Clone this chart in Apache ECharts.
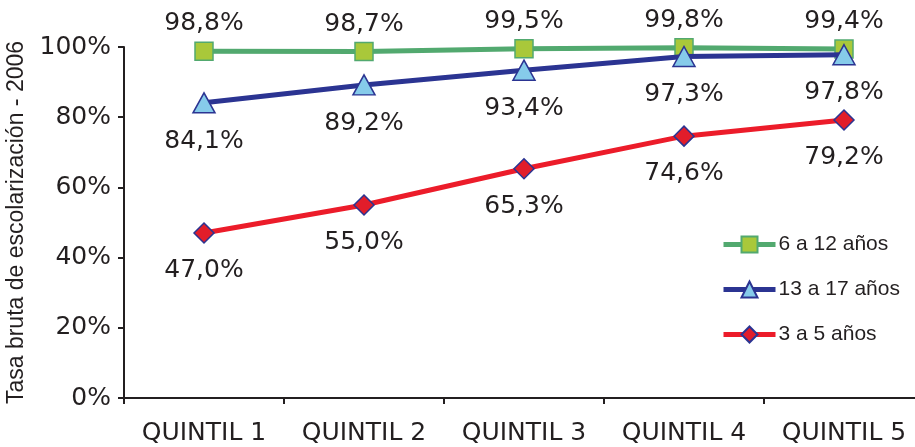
<!DOCTYPE html>
<html><head><meta charset="utf-8">
<script src="https://cdn.jsdelivr.net/npm/echarts@6/dist/echarts.min.js"></script>
<style>html,body{margin:0;padding:0;background:#fff}#c{width:915px;height:447px}</style>
</head><body><div id="c"></div>
<script>
const categories = ['QUINTIL 1','QUINTIL 2','QUINTIL 3','QUINTIL 4','QUINTIL 5'];
const seriesNames = ['6 a 12 años','13 a 17 años','3 a 5 años'];
const v6a12 = [98.8, 98.7, 99.5, 99.8, 99.4];
const v13a17 = [84.1, 89.2, 93.4, 97.3, 97.8];
const v3a5 = [47.0, 55.0, 65.3, 74.6, 79.2];
const yTicks = [0, 20, 40, 60, 80, 100];

const fmt = p => p.value.toFixed(1).replace('.', ',') + '%';
const lblFont = {fontFamily:'DejaVu Sans', fontSize:25, color:'#231f20'};

const chart = echarts.init(document.getElementById('c'));
chart.setOption({
  animation:false,
  grid:{left:124, top:47, width:800, height:351, containLabel:false, outerBoundsMode:'none'},
  legend:{
    orient:'vertical', left:716, top:229, itemWidth:52, itemHeight:20, itemGap:24,
    data:seriesNames,
    lineStyle:{width:5},
    textStyle:{fontFamily:'Liberation Sans', fontSize:21, color:'#231f20', padding:[0,0,0,-2]}
  },
  xAxis:{
    type:'category', data:categories, boundaryGap:true,
    axisLine:{lineStyle:{color:'#231f20', width:2}},
    axisTick:{show:true, length:6, lineStyle:{color:'#231f20', width:2}},
    axisLabel:{fontFamily:'DejaVu Sans', fontSize:25, color:'#231f20', margin:23, interval:0, hideOverlap:false}
  },
  yAxis:{
    type:'value', min:yTicks[0], max:yTicks[yTicks.length-1], interval:20,
    name:'Tasa bruta de escolarización - 2006', nameLocation:'middle', nameGap:88,
    nameTextStyle:{fontFamily:'Liberation Sans', fontSize:23, color:'#231f20'},
    axisLine:{show:true, lineStyle:{color:'#231f20', width:2}},
    axisTick:{show:true, length:6, lineStyle:{color:'#231f20', width:2}},
    splitLine:{show:false},
    axisLabel:{fontFamily:'DejaVu Sans', fontSize:25, color:'#231f20', margin:13, formatter:v=>v+'%'}
  },
  series:[
    {name:seriesNames[0], type:'line', data:v6a12, symbol:'rect', symbolSize:18,
     lineStyle:{color:'#52a96f', width:5}, itemStyle:{color:'#a9c83a', borderColor:'#52a96f', borderWidth:1.5},
     label:{show:true, position:'top', distance:5, formatter:fmt, ...lblFont}, z:3},
    {name:seriesNames[1], type:'line', data:v13a17, symbol:'triangle', symbolSize:[22,20],
     lineStyle:{color:'#2b3492', width:5}, itemStyle:{color:'#86cbea', borderColor:'#2b3492', borderWidth:1.5},
     label:{show:true, position:'bottom', distance:15, formatter:fmt, ...lblFont}, z:4},
    {name:seriesNames[2], type:'line', data:v3a5, symbol:'diamond', symbolSize:[20,20],
     lineStyle:{color:'#ec1c2a', width:5}, itemStyle:{color:'#e11d2a', borderColor:'#2b3492', borderWidth:1.5},
     label:{show:true, position:'bottom', distance:14, formatter:fmt, ...lblFont}, z:2}
  ]
});
</script></body></html>
